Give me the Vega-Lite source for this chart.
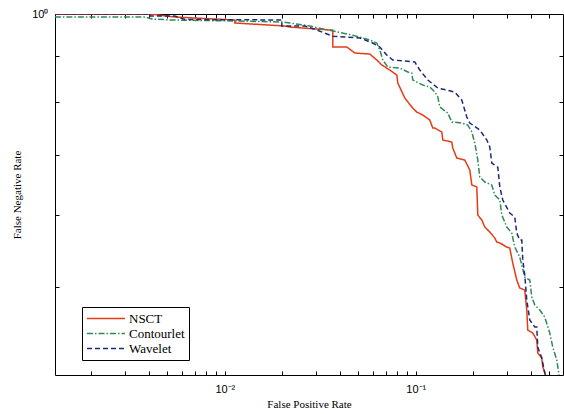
{
  "$schema": "https://vega.github.io/schema/vega-lite/v6.json",
  "width": 508,
  "height": 361,
  "autosize": {"type": "none"},
  "padding": {"left": 55, "top": 14, "right": 1, "bottom": 39},
  "background": "white",
  "config": {
    "view": {"stroke": null},
    "axis": {
      "domainColor": "black", "domainWidth": 1, "tickColor": "black", "tickWidth": 1,
      "labelColor": "black", "labelFont": "Liberation Sans", "labelFontSize": 11,
      "titleFont": "Liberation Serif", "titleFontSize": 11, "titleFontWeight": "normal", "titleColor": "black",
      "grid": false, "labelFlush": false, "labelOverlap": false
    }
  },
  "data": {"values": [
    {"s":"NSCT","i":1,"fpr":0.001288,"fnr":1.0},
    {"s":"NSCT","i":2,"fpr":0.00405,"fnr":1.0},
    {"s":"NSCT","i":3,"fpr":0.00547,"fnr":0.9924},
    {"s":"NSCT","i":4,"fpr":0.01128,"fnr":0.9849},
    {"s":"NSCT","i":5,"fpr":0.01128,"fnr":0.9774},
    {"s":"NSCT","i":6,"fpr":0.02061,"fnr":0.9700},
    {"s":"NSCT","i":7,"fpr":0.02188,"fnr":0.9675},
    {"s":"NSCT","i":8,"fpr":0.03548,"fnr":0.9602},
    {"s":"NSCT","i":9,"fpr":0.03676,"fnr":0.9602},
    {"s":"NSCT","i":10,"fpr":0.03676,"fnr":0.9196},
    {"s":"NSCT","i":11,"fpr":0.04352,"fnr":0.9196},
    {"s":"NSCT","i":12,"fpr":0.04797,"fnr":0.9057},
    {"s":"NSCT","i":13,"fpr":0.05742,"fnr":0.9034},
    {"s":"NSCT","i":14,"fpr":0.0625,"fnr":0.8898},
    {"s":"NSCT","i":15,"fpr":0.06637,"fnr":0.8786},
    {"s":"NSCT","i":16,"fpr":0.07305,"fnr":0.8675},
    {"s":"NSCT","i":17,"fpr":0.07955,"fnr":0.8565},
    {"s":"NSCT","i":18,"fpr":0.08049,"fnr":0.8393},
    {"s":"NSCT","i":19,"fpr":0.08759,"fnr":0.8080},
    {"s":"NSCT","i":20,"fpr":0.0953,"fnr":0.7897},
    {"s":"NSCT","i":21,"fpr":0.1012,"fnr":0.7797},
    {"s":"NSCT","i":22,"fpr":0.1088,"fnr":0.7738},
    {"s":"NSCT","i":23,"fpr":0.1184,"fnr":0.7641},
    {"s":"NSCT","i":24,"fpr":0.1227,"fnr":0.7487},
    {"s":"NSCT","i":25,"fpr":0.1257,"fnr":0.7487},
    {"s":"NSCT","i":26,"fpr":0.1368,"fnr":0.7412},
    {"s":"NSCT","i":27,"fpr":0.1385,"fnr":0.7263},
    {"s":"NSCT","i":28,"fpr":0.1543,"fnr":0.7226},
    {"s":"NSCT","i":29,"fpr":0.1562,"fnr":0.7117},
    {"s":"NSCT","i":30,"fpr":0.1639,"fnr":0.6938},
    {"s":"NSCT","i":31,"fpr":0.1805,"fnr":0.6903},
    {"s":"NSCT","i":32,"fpr":0.1918,"fnr":0.6730},
    {"s":"NSCT","i":33,"fpr":0.1965,"fnr":0.6479},
    {"s":"NSCT","i":34,"fpr":0.2086,"fnr":0.6446},
    {"s":"NSCT","i":35,"fpr":0.2112,"fnr":0.6004},
    {"s":"NSCT","i":36,"fpr":0.2216,"fnr":0.5928},
    {"s":"NSCT","i":37,"fpr":0.2298,"fnr":0.5823},
    {"s":"NSCT","i":38,"fpr":0.2440,"fnr":0.5750},
    {"s":"NSCT","i":39,"fpr":0.2592,"fnr":0.5663},
    {"s":"NSCT","i":40,"fpr":0.2655,"fnr":0.5606},
    {"s":"NSCT","i":41,"fpr":0.2754,"fnr":0.5592},
    {"s":"NSCT","i":42,"fpr":0.2995,"fnr":0.5535},
    {"s":"NSCT","i":43,"fpr":0.3105,"fnr":0.5521},
    {"s":"NSCT","i":44,"fpr":0.3219,"fnr":0.5315},
    {"s":"NSCT","i":45,"fpr":0.3379,"fnr":0.5090},
    {"s":"NSCT","i":46,"fpr":0.3503,"fnr":0.4988},
    {"s":"NSCT","i":47,"fpr":0.3721,"fnr":0.4963},
    {"s":"NSCT","i":48,"fpr":0.3812,"fnr":0.4717},
    {"s":"NSCT","i":49,"fpr":0.3858,"fnr":0.4484},
    {"s":"NSCT","i":50,"fpr":0.4099,"fnr":0.4450},
    {"s":"NSCT","i":51,"fpr":0.4301,"fnr":0.4371},
    {"s":"NSCT","i":52,"fpr":0.4353,"fnr":0.4229},
    {"s":"NSCT","i":53,"fpr":0.4568,"fnr":0.4176},
    {"s":"NSCT","i":54,"fpr":0.4623,"fnr":0.4082},
    {"s":"NSCT","i":55,"fpr":0.4793,"fnr":0.4000},
    {"s":"Contourlet","i":1,"fpr":0.001288,"fnr":0.9924},
    {"s":"Contourlet","i":2,"fpr":0.003811,"fnr":0.9924},
    {"s":"Contourlet","i":3,"fpr":0.00415,"fnr":0.9874},
    {"s":"Contourlet","i":4,"fpr":0.00528,"fnr":0.9849},
    {"s":"Contourlet","i":5,"fpr":0.01128,"fnr":0.9824},
    {"s":"Contourlet","i":6,"fpr":0.01988,"fnr":0.9799},
    {"s":"Contourlet","i":7,"fpr":0.02188,"fnr":0.9774},
    {"s":"Contourlet","i":8,"fpr":0.02786,"fnr":0.9700},
    {"s":"Contourlet","i":9,"fpr":0.03676,"fnr":0.9578},
    {"s":"Contourlet","i":10,"fpr":0.04624,"fnr":0.9481},
    {"s":"Contourlet","i":11,"fpr":0.05742,"fnr":0.9361},
    {"s":"Contourlet","i":12,"fpr":0.0625,"fnr":0.9290},
    {"s":"Contourlet","i":13,"fpr":0.0648,"fnr":0.9127},
    {"s":"Contourlet","i":14,"fpr":0.06718,"fnr":0.8898},
    {"s":"Contourlet","i":15,"fpr":0.07136,"fnr":0.8741},
    {"s":"Contourlet","i":16,"fpr":0.08246,"fnr":0.8719},
    {"s":"Contourlet","i":17,"fpr":0.09081,"fnr":0.8631},
    {"s":"Contourlet","i":18,"fpr":0.0953,"fnr":0.8609},
    {"s":"Contourlet","i":19,"fpr":0.09645,"fnr":0.8457},
    {"s":"Contourlet","i":20,"fpr":0.1088,"fnr":0.8351},
    {"s":"Contourlet","i":21,"fpr":0.1184,"fnr":0.8308},
    {"s":"Contourlet","i":22,"fpr":0.1257,"fnr":0.8204},
    {"s":"Contourlet","i":23,"fpr":0.1304,"fnr":0.8101},
    {"s":"Contourlet","i":24,"fpr":0.1336,"fnr":0.7897},
    {"s":"Contourlet","i":25,"fpr":0.1471,"fnr":0.7778},
    {"s":"Contourlet","i":26,"fpr":0.1543,"fnr":0.7602},
    {"s":"Contourlet","i":27,"fpr":0.1741,"fnr":0.7583},
    {"s":"Contourlet","i":28,"fpr":0.1872,"fnr":0.7544},
    {"s":"Contourlet","i":29,"fpr":0.1965,"fnr":0.7412},
    {"s":"Contourlet","i":30,"fpr":0.2037,"fnr":0.7207},
    {"s":"Contourlet","i":31,"fpr":0.2112,"fnr":0.6903},
    {"s":"Contourlet","i":32,"fpr":0.2163,"fnr":0.6611},
    {"s":"Contourlet","i":33,"fpr":0.2298,"fnr":0.6528},
    {"s":"Contourlet","i":34,"fpr":0.2500,"fnr":0.6479},
    {"s":"Contourlet","i":35,"fpr":0.2592,"fnr":0.6316},
    {"s":"Contourlet","i":36,"fpr":0.2754,"fnr":0.6237},
    {"s":"Contourlet","i":37,"fpr":0.2821,"fnr":0.6004},
    {"s":"Contourlet","i":38,"fpr":0.2995,"fnr":0.5823},
    {"s":"Contourlet","i":39,"fpr":0.3181,"fnr":0.5735},
    {"s":"Contourlet","i":40,"fpr":0.3298,"fnr":0.5535},
    {"s":"Contourlet","i":41,"fpr":0.3503,"fnr":0.5396},
    {"s":"Contourlet","i":42,"fpr":0.3721,"fnr":0.5129},
    {"s":"Contourlet","i":43,"fpr":0.3953,"fnr":0.5090},
    {"s":"Contourlet","i":44,"fpr":0.4049,"fnr":0.4875},
    {"s":"Contourlet","i":45,"fpr":0.4198,"fnr":0.4777},
    {"s":"Contourlet","i":46,"fpr":0.4459,"fnr":0.4717},
    {"s":"Contourlet","i":47,"fpr":0.4736,"fnr":0.4634},
    {"s":"Contourlet","i":48,"fpr":0.5030,"fnr":0.4450},
    {"s":"Contourlet","i":49,"fpr":0.5215,"fnr":0.4294},
    {"s":"Contourlet","i":50,"fpr":0.5472,"fnr":0.4155},
    {"s":"Contourlet","i":51,"fpr":0.5605,"fnr":0.4020},
    {"s":"Contourlet","i":52,"fpr":0.5620,"fnr":0.4000},
    {"s":"Wavelet","i":1,"fpr":0.001288,"fnr":1.0},
    {"s":"Wavelet","i":2,"fpr":0.002655,"fnr":1.0},
    {"s":"Wavelet","i":3,"fpr":0.00405,"fnr":1.0},
    {"s":"Wavelet","i":4,"fpr":0.00405,"fnr":0.9949},
    {"s":"Wavelet","i":5,"fpr":0.00547,"fnr":0.9949},
    {"s":"Wavelet","i":6,"fpr":0.00618,"fnr":0.9861},
    {"s":"Wavelet","i":7,"fpr":0.01988,"fnr":0.9849},
    {"s":"Wavelet","i":8,"fpr":0.01988,"fnr":0.9700},
    {"s":"Wavelet","i":9,"fpr":0.02624,"fnr":0.9700},
    {"s":"Wavelet","i":10,"fpr":0.03032,"fnr":0.9602},
    {"s":"Wavelet","i":11,"fpr":0.03676,"fnr":0.9450},
    {"s":"Wavelet","i":12,"fpr":0.0509,"fnr":0.9409},
    {"s":"Wavelet","i":13,"fpr":0.05951,"fnr":0.9290},
    {"s":"Wavelet","i":14,"fpr":0.0648,"fnr":0.9196},
    {"s":"Wavelet","i":15,"fpr":0.07047,"fnr":0.9011},
    {"s":"Wavelet","i":16,"fpr":0.07578,"fnr":0.8898},
    {"s":"Wavelet","i":17,"fpr":0.0988,"fnr":0.8853},
    {"s":"Wavelet","i":18,"fpr":0.1049,"fnr":0.8675},
    {"s":"Wavelet","i":19,"fpr":0.1156,"fnr":0.8457},
    {"s":"Wavelet","i":20,"fpr":0.1304,"fnr":0.8287},
    {"s":"Wavelet","i":21,"fpr":0.16,"fnr":0.8204},
    {"s":"Wavelet","i":22,"fpr":0.1741,"fnr":0.8039},
    {"s":"Wavelet","i":23,"fpr":0.1849,"fnr":0.7699},
    {"s":"Wavelet","i":24,"fpr":0.1918,"fnr":0.7583},
    {"s":"Wavelet","i":25,"fpr":0.2163,"fnr":0.7449},
    {"s":"Wavelet","i":26,"fpr":0.2354,"fnr":0.7263},
    {"s":"Wavelet","i":27,"fpr":0.2440,"fnr":0.7135},
    {"s":"Wavelet","i":28,"fpr":0.2500,"fnr":0.6850},
    {"s":"Wavelet","i":29,"fpr":0.2688,"fnr":0.6780},
    {"s":"Wavelet","i":30,"fpr":0.2754,"fnr":0.6446},
    {"s":"Wavelet","i":31,"fpr":0.2854,"fnr":0.6237},
    {"s":"Wavelet","i":32,"fpr":0.3105,"fnr":0.6034},
    {"s":"Wavelet","i":33,"fpr":0.3298,"fnr":0.5973},
    {"s":"Wavelet","i":34,"fpr":0.3379,"fnr":0.5735},
    {"s":"Wavelet","i":35,"fpr":0.3503,"fnr":0.5634},
    {"s":"Wavelet","i":36,"fpr":0.3589,"fnr":0.5634},
    {"s":"Wavelet","i":37,"fpr":0.3633,"fnr":0.5355},
    {"s":"Wavelet","i":38,"fpr":0.3721,"fnr":0.5155},
    {"s":"Wavelet","i":39,"fpr":0.3812,"fnr":0.4838},
    {"s":"Wavelet","i":40,"fpr":0.3953,"fnr":0.4599},
    {"s":"Wavelet","i":41,"fpr":0.4198,"fnr":0.4518},
    {"s":"Wavelet","i":42,"fpr":0.4301,"fnr":0.4518},
    {"s":"Wavelet","i":43,"fpr":0.4353,"fnr":0.4294},
    {"s":"Wavelet","i":44,"fpr":0.4568,"fnr":0.4176},
    {"s":"Wavelet","i":45,"fpr":0.4736,"fnr":0.4020},
    {"s":"Wavelet","i":46,"fpr":0.4760,"fnr":0.4000}
  ]},
  "layer": [
    {
      "mark": {"type": "line", "strokeWidth": 1.5, "clip": true},
      "encoding": {
        "x": {"field": "fpr", "type": "quantitative",
              "scale": {"type": "log", "domain": [0.00129, 0.59], "nice": false},
              "axis": {"title": "False Positive Rate", "orient": "bottom",
                       "values": [0.002,0.003,0.004,0.005,0.006,0.007,0.008,0.009,0.01,0.02,0.03,0.04,0.05,0.06,0.07,0.08,0.09,0.1,0.2,0.3,0.4,0.5],
                       "labelExpr": "datum.value == 0.01 ? '10⁻²' : (datum.value == 0.1 ? '10⁻¹' : '')",
                       "tickSize": -4, "labelPadding": 12, "titlePadding": 4}},
        "y": {"field": "fnr", "type": "quantitative",
              "scale": {"type": "log", "domain": [0.4, 1], "nice": false},
              "axis": {"title": "False Negative Rate", "orient": "left",
                       "values": [0.5,0.6,0.7,0.8,0.9,1],
                       "labelExpr": "datum.value == 1 ? '10⁰' : ''",
                       "tickSize": -4, "labelPadding": 11, "titlePadding": 9}},
        "color": {"field": "s", "type": "nominal",
                  "scale": {"domain": ["NSCT", "Contourlet", "Wavelet"], "range": ["#e63c14", "#2e8b57", "#1b2a78"]},
                  "legend": {"title": null, "orient": "none", "legendX": 27, "legendY": 293,
                             "symbolType": "stroke", "symbolSize": 1444, "symbolStrokeWidth": 1.5,
                             "clipHeight": 15, "rowPadding": 0, "padding": 4, "strokeColor": "black",
                             "fillColor": "white", "labelFont": "Liberation Serif", "labelFontSize": 13,
                             "labelColor": "black", "labelOffset": 3, "cornerRadius": 0}},
        "strokeDash": {"field": "s", "type": "nominal",
                       "scale": {"domain": ["NSCT", "Contourlet", "Wavelet"], "range": [[1, 0], [6, 2, 1.5, 2], [5, 3]]},
                       "legend": {"title": null, "orient": "none", "legendX": 27, "legendY": 293,
                             "symbolType": "stroke", "symbolSize": 1444, "symbolStrokeWidth": 1.5,
                             "clipHeight": 15, "rowPadding": 0, "padding": 4, "strokeColor": "black",
                             "fillColor": "white", "labelFont": "Liberation Serif", "labelFontSize": 13,
                             "labelColor": "black", "labelOffset": 3, "cornerRadius": 0}},
        "order": {"field": "i", "type": "quantitative"}
      }
    },
    {
      "mark": {"type": "line", "strokeOpacity": 0},
      "encoding": {
        "x": {"field": "fpr", "type": "quantitative",
              "axis": {"title": null, "orient": "top",
                       "values": [0.002,0.003,0.004,0.005,0.006,0.007,0.008,0.009,0.01,0.02,0.03,0.04,0.05,0.06,0.07,0.08,0.09,0.1,0.2,0.3,0.4,0.5],
                       "labels": false, "tickSize": -4}},
        "y": {"field": "fnr", "type": "quantitative",
              "axis": {"title": null, "orient": "right",
                       "values": [0.5,0.6,0.7,0.8,0.9], "labels": false, "tickSize": -4}},
        "detail": {"field": "s"},
        "order": {"field": "i", "type": "quantitative"}
      }
    }
  ],
  "resolve": {"axis": {"x": "independent", "y": "independent"}}
}
